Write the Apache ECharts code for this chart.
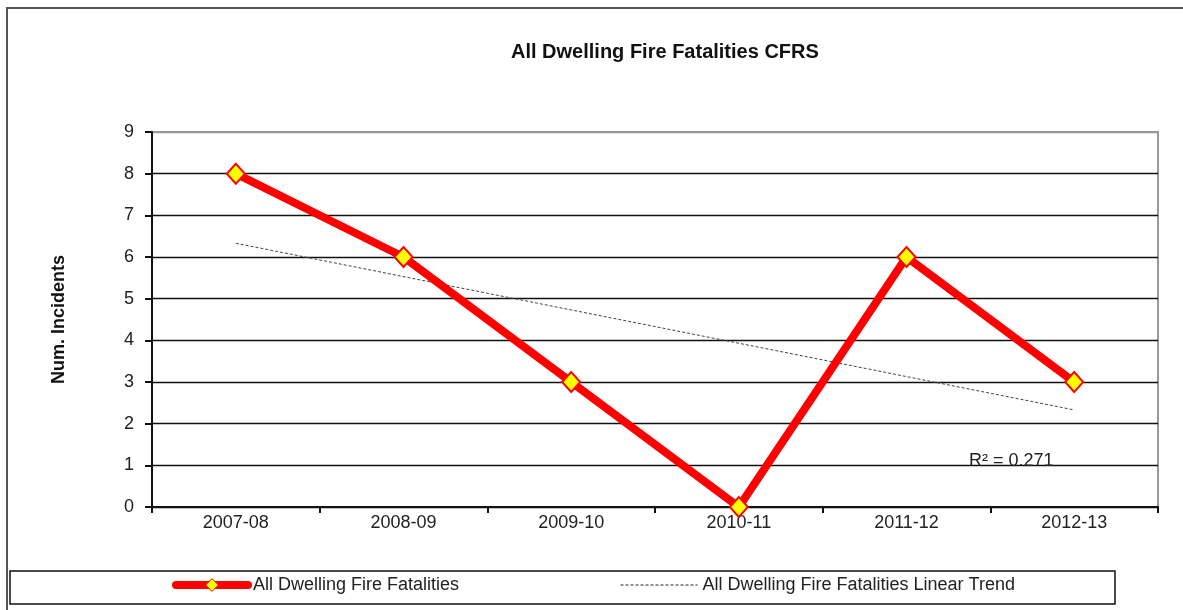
<!DOCTYPE html>
<html>
<head>
<meta charset="utf-8">
<title>All Dwelling Fire Fatalities CFRS</title>
<script src="https://cdn.jsdelivr.net/npm/echarts@6/dist/echarts.min.js"></script>
<style>
  html, body { margin: 0; padding: 0; background: #fff; }
  #chart { width: 1183px; height: 610px; }
</style>
</head>
<body>
<div id="chart"></div>
<script>
// Financial years and dwelling fire fatality counts
const years = ['2007-08', '2008-09', '2009-10', '2010-11', '2011-12', '2012-13'];
const fatalities = [8, 6, 3, 0, 6, 3];
// Linear trend end points (straight line between first and last year)
const trendEnds = [6.33, null, null, null, null, 2.33];
const rSquaredLabel = 'R² = 0.271';

const seriesName = 'All Dwelling Fire Fatalities';
const trendName = 'All Dwelling Fire Fatalities Linear Trend';

const FONT = '"Liberation Sans", Arial, sans-serif';

const chart = echarts.init(document.getElementById('chart'), null, { renderer: 'canvas' });

chart.setOption({
  animation: false,
  backgroundColor: '#ffffff',
  textStyle: { fontFamily: FONT },
  title: {
    text: 'All Dwelling Fire Fatalities CFRS',
    left: 506,
    top: 37,
    textStyle: { fontFamily: FONT, fontSize: 20, fontWeight: 'bold', color: '#111' }
  },
  grid: {
    left: 152,
    right: 25,
    top: 132,
    bottom: 103,
    show: true,
    borderColor: '#999',
    borderWidth: 2,
    backgroundColor: '#fff'
  },
  legend: [
    {
      data: [seriesName],
      left: 172,
      top: 576,
      padding: 0,
      itemWidth: 72,
      itemHeight: 16,
      itemGap: 0,
      lineStyle: { width: 8, cap: 'round' },
      itemStyle: { borderWidth: 1 },
      textStyle: { fontFamily: FONT, fontSize: 18, color: '#222' }
    },
    {
      data: [trendName],
      left: 620,
      top: 576,
      padding: 0,
      itemWidth: 77,
      itemHeight: 16,
      itemGap: 0,
      itemStyle: { opacity: 0 },
      lineStyle: { width: 1, type: [3, 2], color: '#222' },
      textStyle: { fontFamily: FONT, fontSize: 18, color: '#222' }
    }
  ],
  xAxis: {
    type: 'category',
    data: years,
    boundaryGap: true,
    axisLine: { show: true, lineStyle: { color: '#111', width: 2 } },
    axisTick: { show: true, inside: false, length: 6, lineStyle: { color: '#111', width: 2 } },
    axisLabel: { fontFamily: FONT, fontSize: 18, color: '#222', margin: 7 },
    splitLine: { show: false }
  },
  yAxis: {
    type: 'value',
    min: 0,
    max: 9,
    interval: 1,
    name: 'Num. Incidents',
    nameLocation: 'middle',
    nameRotate: 90,
    nameGap: 84,
    nameTextStyle: { fontFamily: FONT, fontSize: 18, fontWeight: 'bold', color: '#111' },
    axisLine: { show: true, lineStyle: { color: '#111', width: 2 } },
    axisTick: { show: true, inside: false, length: 7, lineStyle: { color: '#111', width: 2 } },
    axisLabel: { fontFamily: FONT, fontSize: 18, color: '#222', margin: 18 },
    splitLine: {
      show: true,
      lineStyle: {
        color: ['#111', '#111', '#111', '#111', '#111', '#111', '#111', '#111', '#111', '#999'],
        width: 1.3
      }
    }
  },
  series: [
    {
      name: seriesName,
      type: 'line',
      data: fatalities,
      z: 3,
      lineStyle: { color: '#ff0000', width: 8 },
      symbol: 'diamond',
      symbolSize: [18, 20],
      itemStyle: { color: '#ffff00', borderColor: '#ff0000', borderWidth: 2 }
    },
    {
      name: trendName,
      type: 'line',
      data: trendEnds,
      connectNulls: true,
      z: 2,
      symbol: 'none',
      lineStyle: { color: '#444', width: 1, type: [3, 2] },
      itemStyle: { color: '#444' }
    }
  ],
  graphic: [
    {
      // outer chart border
      type: 'rect',
      z: -10,
      shape: { x: 7, y: 8, width: 1182, height: 610 },
      style: { fill: 'none', stroke: '#555', lineWidth: 2 }
    },
    {
      // legend frame
      type: 'rect',
      z: -5,
      shape: { x: 10, y: 571, width: 1105, height: 33 },
      style: { fill: '#fff', stroke: '#111', lineWidth: 1.5 }
    },
    {
      type: 'text',
      left: 969,
      top: 452,
      z: 10,
      style: { text: rSquaredLabel, font: '18px ' + FONT, fill: '#222' }
    }
  ]
});
</script>
</body>
</html>
